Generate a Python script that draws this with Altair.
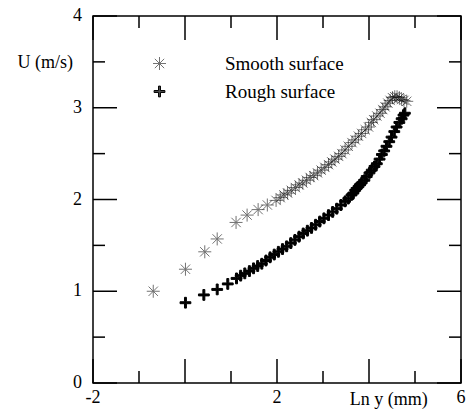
import altair as alt
import pandas as pd

# Smooth surface (asterisks)
smooth_x = [-0.69, 0.01, 0.43, 0.70, 1.11, 1.35, 1.59, 1.79, 1.98, 2.07, 2.15, 2.23, 2.31,
            2.40, 2.48, 2.56, 2.64, 2.72, 2.80, 2.88, 2.96, 3.04, 3.12, 3.19, 3.26, 3.34,
            3.41, 3.48, 3.55, 3.63, 3.70, 3.77, 3.84, 3.92, 3.99, 4.05, 4.10, 4.17, 4.24,
            4.30, 4.35, 4.41, 4.46, 4.51, 4.56, 4.61, 4.66, 4.71, 4.76, 4.82]
smooth_u = [1.00, 1.24, 1.43, 1.57, 1.75, 1.83, 1.89, 1.94, 1.99, 2.02, 2.05, 2.07, 2.10,
            2.13, 2.16, 2.18, 2.21, 2.24, 2.26, 2.29, 2.32, 2.35, 2.38, 2.41, 2.44, 2.47,
            2.50, 2.54, 2.58, 2.62, 2.65, 2.69, 2.72, 2.76, 2.79, 2.84, 2.87, 2.91, 2.94,
            2.98, 3.01, 3.05, 3.08, 3.11, 3.12, 3.12, 3.11, 3.09, 3.08, 3.07]

# Rough surface (bold plus)
rough_x = [0.01, 0.41, 0.70, 0.93, 1.12, 1.21, 1.30, 1.40, 1.49, 1.58, 1.67, 1.76, 1.85,
           1.94, 2.03, 2.12, 2.21, 2.30, 2.39, 2.48, 2.57, 2.66, 2.75, 2.84, 2.93, 3.02,
           3.12, 3.21, 3.30, 3.39, 3.48, 3.55, 3.62, 3.66, 3.70, 3.73, 3.77, 3.80, 3.84,
           3.90, 3.95, 4.01, 4.06, 4.12, 4.17, 4.23, 4.28, 4.33, 4.38, 4.44, 4.49, 4.55,
           4.60, 4.66, 4.71, 4.75, 4.78]
rough_u = [0.875, 0.96, 1.02, 1.08, 1.14, 1.17, 1.195, 1.22, 1.25, 1.275, 1.30, 1.335, 1.37,
           1.40, 1.43, 1.46, 1.49, 1.525, 1.56, 1.595, 1.63, 1.66, 1.69, 1.725, 1.76, 1.795,
           1.83, 1.865, 1.90, 1.94, 1.98, 2.01, 2.05, 2.07, 2.10, 2.12, 2.14, 2.16, 2.18,
           2.21, 2.25, 2.29, 2.32, 2.36, 2.39, 2.44, 2.49, 2.53, 2.58, 2.63, 2.68, 2.74,
           2.79, 2.84, 2.88, 2.92, 2.94]

series_names = ["Smooth surface", "Rough surface"]
x_major = [-2, 0, 2, 4, 6]
x_minor = [-1, 1, 3, 5]
y_major = [0, 1, 2, 3, 4]
y_minor = [0.5, 1.5, 2.5, 3.5]
x_label_values = [-2, 2, 6]
x_label_text = ["-2", "2", "6"]
y_label_values = [0, 1, 2, 3, 4]
y_label_text = ["0", "1", "2", "3", "4"]
x_title = "Ln y (mm)"
x_title_at = [4.43]
y_title = "U (m/s)"
y_title_at = [3.49]

rows = [{"x": a, "u": b, "s": series_names[1]} for a, b in zip(rough_x, rough_u)]
rows += [{"x": a, "u": b, "s": series_names[0]} for a, b in zip(smooth_x, smooth_u)]
df = pd.DataFrame(rows)

FONT = "Liberation Serif"
ASTER = "M-1,0L1,0M0,-1L0,1M-0.72,-0.72L0.72,0.72M-0.72,0.72L0.72,-0.72"
PLUS = "M-0.83,-0.15H-0.15V-0.83H0.15V-0.15H0.83V0.15H0.15V0.83H-0.15V0.15H-0.83Z"

W, H = 368, 367
MAJOR, MINOR = 24, 12
xs = alt.Scale(domain=[-2, 6], nice=False, zero=False)
ys = alt.Scale(domain=[0, 4], nice=False, zero=False)

points = alt.Chart(df).mark_point(size=169, strokeWidth=1).encode(
    x=alt.X("x:Q", scale=xs, axis=None),
    y=alt.Y("u:Q", scale=ys, axis=None),
    shape=alt.Shape("s:N", scale=alt.Scale(domain=series_names, range=[ASTER, PLUS]),
                    legend=alt.Legend(title=None, orient="none", legendX=57, legendY=38,
                                      labelFont=FONT, labelFontSize=19, labelColor="black",
                                      labelOffset=56, rowPadding=8, symbolSize=169,
                                      symbolStrokeWidth=1, padding=0, labelLimit=300)),
    stroke=alt.Stroke("s:N", scale=alt.Scale(domain=series_names, range=["black", "black"])),
    fill=alt.Fill("s:N", scale=alt.Scale(domain=series_names, range=["transparent", "black"])),
    opacity=alt.Opacity("s:N", scale=alt.Scale(domain=series_names, range=[0.55, 1.0])),
)

# tick marks drawn as line-shaped symbols (path from the anchor point inward)
UP, DOWN, RIGHT, LEFT = "M0,0L0,-1", "M0,0L0,1", "M0,0L1,0", "M0,0L-1,0"

def xticks(vals, ypos, shape, length):
    return alt.Chart(pd.DataFrame({"tx": vals})).mark_point(
        shape=shape, size=(2 * length) ** 2, filled=False, stroke="black",
        strokeWidth=1.5, opacity=1, strokeOpacity=1).encode(
        x=alt.X("tx:Q", scale=xs, axis=None), y=alt.value(ypos))

def yticks(vals, xpos, shape, length):
    return alt.Chart(pd.DataFrame({"ty": vals})).mark_point(
        shape=shape, size=(2 * length) ** 2, filled=False, stroke="black",
        strokeWidth=1.5, opacity=1, strokeOpacity=1).encode(
        y=alt.Y("ty:Q", scale=ys, axis=None), x=alt.value(xpos))

ticks = [
    xticks(x_major, H, UP, MAJOR), xticks(x_minor, H, UP, MINOR),
    xticks(x_major, 0, DOWN, MAJOR), xticks(x_minor, 0, DOWN, MINOR),
    yticks(y_major, 0, RIGHT, MAJOR), yticks(y_minor, 0, RIGHT, MINOR),
    yticks(y_major, W, LEFT, MAJOR), yticks(y_minor, W, LEFT, MINOR),
]

txt = dict(font=FONT, fontSize=18, color="black")

x_labels = alt.Chart(pd.DataFrame({"lx": x_label_values, "t": x_label_text})).mark_text(
    align="center", baseline="middle", **txt).encode(
    x=alt.X("lx:Q", scale=xs, axis=None), y=alt.value(H + 15), text="t:N")

y_labels = alt.Chart(pd.DataFrame({"ly": y_label_values, "t": y_label_text})).mark_text(
    align="right", baseline="middle", **txt).encode(
    y=alt.Y("ly:Q", scale=ys, axis=None), x=alt.value(-11), text="t:N")

x_title_layer = alt.Chart(pd.DataFrame({"lx": x_title_at, "t": [x_title]})).mark_text(
    align="center", baseline="middle", **txt).encode(
    x=alt.X("lx:Q", scale=xs, axis=None), y=alt.value(H + 17), text="t:N")

y_title_layer = alt.Chart(pd.DataFrame({"ly": y_title_at, "t": [y_title]})).mark_text(
    align="right", baseline="middle", **txt).encode(
    y=alt.Y("ly:Q", scale=ys, axis=None), x=alt.value(-20), text="t:N")

chart = alt.layer(points, *ticks, x_labels, y_labels, x_title_layer, y_title_layer).properties(
    width=W, height=H,
    autosize=alt.AutoSizeParams(type="none"),
    padding={"left": 93, "top": 16, "right": 8, "bottom": 37},
    background="white",
).configure_view(stroke="black", strokeWidth=1.5)

chart.save("out.html", embed_options={"renderer": "svg", "actions": False})
